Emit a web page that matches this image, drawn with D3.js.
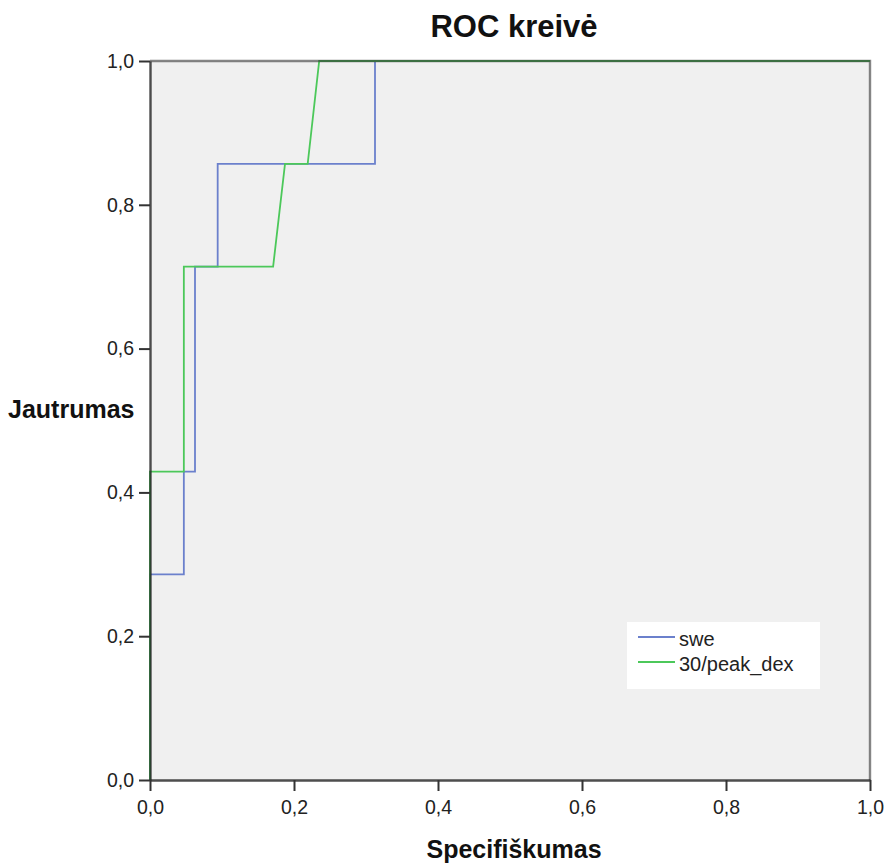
<!DOCTYPE html>
<html>
<head>
<meta charset="utf-8">
<script src="https://cdn.jsdelivr.net/npm/d3@7"></script>
<style>
  html, body { margin: 0; padding: 0; background: #fff; }
  svg { display: block; font-family: "Liberation Sans", Arial, sans-serif; }
</style>
</head>
<body>
<svg id="chart"></svg>
<script>
// ROC curves: x = 1 - specificity, y = sensitivity
const sweX = [0, 0, 0.047, 0.047, 0.0625, 0.0625, 0.094, 0.094, 0.3125, 0.3125, 1];
const sweY = [0, 0.286, 0.286, 0.429, 0.429, 0.714, 0.714, 0.857, 0.857, 1, 1];

const peakX = [0, 0, 0.047, 0.047, 0.171, 0.1875, 0.219, 0.235, 1];
const peakY = [0, 0.429, 0.429, 0.714, 0.714, 0.857, 0.857, 1, 1];

const seriesNames = ['swe', '30/peak_dex'];
const seriesColors = ['#6b80cc', '#4cc85a'];

const tickValues = [0, 0.2, 0.4, 0.6, 0.8, 1];
const tickLabels = ['0,0', '0,2', '0,4', '0,6', '0,8', '1,0'];

const width = 887;
const height = 864;
const margin = { top: 61, right: 17, bottom: 84, left: 150 };
const innerW = width - margin.left - margin.right;
const innerH = height - margin.top - margin.bottom;

const svg = d3.select('#chart')
  .attr('width', width)
  .attr('height', height);

const g = svg.append('g')
  .attr('transform', `translate(${margin.left}, ${margin.top})`);

const x = d3.scaleLinear().domain([0, 1]).range([0, innerW]);
const y = d3.scaleLinear().domain([0, 1]).range([innerH, 0]);

// plot background
g.append('rect')
  .attr('width', innerW)
  .attr('height', innerH)
  .attr('fill', '#f0f0f0');

const line = d3.line()
  .x(d => x(d[0]))
  .y(d => y(d[1]));

const series = [
  d3.zip(sweX, sweY),
  d3.zip(peakX, peakY)
];

series.forEach((pts, i) => {
  g.append('path')
    .datum(pts)
    .attr('fill', 'none')
    .attr('stroke', seriesColors[i])
    .attr('stroke-width', 1.8)
    .attr('d', line);
});

// top / right frame
g.append('path')
  .attr('d', `M0,0H${innerW}V${innerH}`)
  .attr('fill', 'none')
  .attr('stroke', '#333')
  .attr('stroke-opacity', 0.6)
  .attr('stroke-width', 2.4);

// axes
const fmt = d => tickLabels[tickValues.indexOf(d)];

const yAxis = g.append('g')
  .call(d3.axisLeft(y).tickValues(tickValues).tickFormat(fmt)
    .tickSize(11).tickSizeOuter(0).tickPadding(5));

const xAxis = g.append('g')
  .attr('transform', `translate(0, ${innerH})`)
  .call(d3.axisBottom(x).tickValues(tickValues).tickFormat(fmt)
    .tickSize(11).tickSizeOuter(0).tickPadding(9));

[yAxis, xAxis].forEach(ax => {
  ax.select('.domain').attr('stroke', '#222').attr('stroke-opacity', 0.8).attr('stroke-width', 2.4);
  ax.selectAll('.tick line').attr('stroke', '#333').attr('stroke-width', 2);
  ax.selectAll('.tick text')
    .attr('fill', '#222')
    .style('font-size', '19.5px')
    .style('font-family', '"Liberation Sans", Arial, sans-serif');
});

// titles
svg.append('text')
  .attr('x', 514)
  .attr('y', 37)
  .attr('text-anchor', 'middle')
  .style('font-size', '31px')
  .style('font-weight', 'bold')
  .attr('fill', '#111')
  .text('ROC kreivė');

svg.append('text')
  .attr('x', 514)
  .attr('y', 858)
  .attr('text-anchor', 'middle')
  .style('font-size', '25px')
  .style('font-weight', 'bold')
  .attr('fill', '#111')
  .text('Specifiškumas');

svg.append('text')
  .attr('x', 8)
  .attr('y', 418)
  .style('font-size', '25px')
  .style('font-weight', 'bold')
  .attr('fill', '#111')
  .text('Jautrumas');

// legend
const legend = svg.append('g').attr('transform', 'translate(627, 622)');
legend.append('rect')
  .attr('width', 193)
  .attr('height', 67)
  .attr('fill', '#fff');

seriesNames.forEach((name, i) => {
  const row = legend.append('g').attr('transform', `translate(0, ${15 + i * 25})`);
  row.append('line')
    .attr('x1', 11).attr('x2', 48)
    .attr('stroke', seriesColors[i])
    .attr('stroke-width', 2);
  row.append('text')
    .attr('x', 52)
    .attr('y', 9)
    .style('font-size', '20px')
    .attr('fill', '#222')
    .text(name);
});
</script>
</body>
</html>
